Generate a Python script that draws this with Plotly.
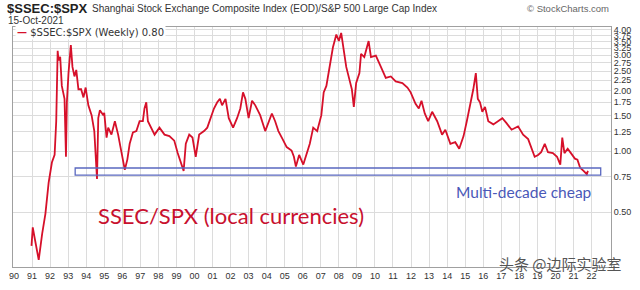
import plotly.graph_objects as go

# Weekly SSEC/SPX ratio (decimal year, ratio)
years = [1990.97, 1991.04, 1991.15, 1991.37, 1991.56, 1991.74, 1991.92, 1992.10, 1992.25, 1992.34,
         1992.42, 1992.47, 1992.56, 1992.65, 1992.80, 1992.88, 1992.93, 1993.02, 1993.15, 1993.24,
         1993.35, 1993.45, 1993.57, 1993.72, 1993.85, 1993.97, 1994.12, 1994.30, 1994.45, 1994.52,
         1994.60, 1994.67, 1994.76, 1994.95, 1995.00, 1995.13, 1995.22, 1995.40, 1995.59, 1995.77,
         1995.95, 1996.14, 1996.28, 1996.41, 1996.59, 1996.78, 1996.96, 1997.14, 1997.23, 1997.33,
         1997.42, 1997.60, 1997.79, 1998.06, 1998.34, 1998.61, 1998.88, 1999.07, 1999.25, 1999.40,
         1999.52, 1999.71, 1999.89, 2000.07, 2000.26, 2000.53, 2000.71, 2000.90, 2001.08, 2001.26,
         2001.41, 2001.53, 2001.72, 2001.90, 2002.14, 2002.36, 2002.54, 2002.69, 2002.82, 2003.00,
         2003.19, 2003.37, 2003.64, 2003.92, 2004.10, 2004.29, 2004.47, 2004.65, 2004.84, 2005.11,
         2005.38, 2005.51, 2005.62, 2005.80, 2006.03, 2006.21, 2006.39, 2006.58, 2006.80, 2007.03,
         2007.16, 2007.31, 2007.49, 2007.67, 2007.86, 2008.00, 2008.13, 2008.26, 2008.41, 2008.59,
         2008.72, 2008.83, 2008.96, 2009.14, 2009.23, 2009.41, 2009.65, 2009.78, 2010.05, 2010.33,
         2010.60, 2010.88, 2011.15, 2011.52, 2011.80, 2011.98, 2012.25, 2012.43, 2012.58, 2012.76,
         2012.95, 2013.17, 2013.45, 2013.72, 2013.90, 2014.18, 2014.45, 2014.67, 2014.91, 2015.09,
         2015.27, 2015.45, 2015.59, 2015.70, 2015.82, 2015.95, 2016.10, 2016.28, 2016.56, 2016.84,
         2017.06, 2017.29, 2017.57, 2017.93, 2018.21, 2018.49, 2018.66, 2018.85, 2019.04, 2019.21,
         2019.41, 2019.59, 2019.86, 2020.09, 2020.27, 2020.38, 2020.50, 2020.68, 2020.86, 2021.08,
         2021.22, 2021.37, 2021.56, 2021.74, 2021.80]
ratio = [0.34, 0.42, 0.37, 0.29, 0.39, 0.49, 0.70, 0.88, 0.96, 1.41,
         3.15, 2.82, 2.94, 2.11, 1.82, 0.94, 1.75, 2.44, 3.36, 2.62,
         2.35, 2.53, 2.03, 2.03, 1.85, 2.07, 1.69, 1.51, 1.26, 0.98,
         0.73, 1.46, 1.60, 1.51, 1.55, 1.17, 1.31, 1.21, 1.41, 1.21,
         1.01, 0.81, 0.91, 1.09, 1.24, 1.26, 1.41, 1.41, 1.63, 1.75,
         1.41, 1.31, 1.21, 1.31, 1.21, 1.19, 1.13, 0.98, 0.87, 0.80,
         1.09, 1.21, 1.17, 0.94, 1.21, 1.26, 1.31, 1.46, 1.63, 1.75,
         1.82, 1.69, 1.82, 1.46, 1.31, 1.46, 1.63, 1.96, 1.82, 1.46,
         1.78, 1.69, 1.51, 1.26, 1.38, 1.54, 1.41, 1.26, 1.17, 1.05,
         1.01, 0.94, 0.84, 0.96, 0.86, 0.98, 1.09, 1.31, 1.26, 1.51,
         1.96, 2.11, 2.62, 3.27, 3.79, 3.52, 3.86, 3.27, 2.62, 2.26,
         2.03, 1.66, 2.18, 2.44, 3.04, 2.93, 3.52, 2.93, 2.98, 2.62,
         2.31, 2.35, 2.22, 2.18, 2.07, 1.96, 1.72, 1.63, 1.78, 1.54,
         1.41, 1.57, 1.41, 1.21, 1.28, 1.09, 1.11, 1.03, 1.19, 1.41,
         1.69, 2.03, 2.44, 1.82, 1.75, 1.57, 1.66, 1.41, 1.36, 1.41,
         1.46, 1.38, 1.28, 1.33, 1.21, 1.15, 1.05, 0.94, 0.96, 0.99,
         1.09, 0.99, 0.98, 0.94, 0.86, 1.17, 0.98, 1.03, 0.98, 0.92,
         0.91, 0.83, 0.80, 0.77, 0.80]

year_ticks = list(range(1990, 2023))
year_labels = ["90", "91", "92", "93", "94", "95", "96", "97", "98", "99", "00", "01", "02",
               "03", "04", "05", "06", "07", "08", "09", "10", "11", "12", "13", "14", "15",
               "16", "17", "18", "19", "20", "21", "22"]
y_ticks = [0.50, 0.75, 1.00, 1.25, 1.50, 1.75, 2.00, 2.25, 2.50, 2.75, 3.00, 3.25, 3.50, 3.75, 4.00]
y_labels = ["%.2f" % v for v in y_ticks]

# "Multi-decade cheap" band
band_x = [1993.39, 2022.51]
band_y = [0.762, 0.827]

fig = go.Figure()
fig.add_trace(go.Scatter(x=years, y=ratio, mode="lines",
                         line=dict(color="#d6102a", width=1.8), showlegend=False))

fig.add_shape(type="rect", xref="x", yref="y", x0=band_x[0], x1=band_x[1],
              y0=band_y[0], y1=band_y[1], line=dict(color="#5a68c0", width=1.3),
              fillcolor="rgba(0,0,0,0)")

fig.update_layout(
    width=640, height=290,
    margin=dict(l=9, r=28, t=27, b=14),
    paper_bgcolor="white", plot_bgcolor="white",
    showlegend=False,
    xaxis=dict(range=[1989.945, 2023.08], tickvals=year_ticks, ticktext=year_labels,
               showgrid=True, gridcolor="#dcdcdc", gridwidth=1,
               showline=True, linecolor="#a0a0a0", mirror=True, zeroline=False,
               ticks="", tickfont=dict(family="Liberation Sans, Arial", size=9, color="#333"),
               ticklabelstandoff=0),
    yaxis=dict(type="log", range=[-0.573, 0.616], side="right",
               tickvals=y_ticks, ticktext=y_labels,
               showgrid=True, gridcolor="#dcdcdc", gridwidth=1,
               showline=True, linecolor="#a0a0a0", mirror=True, zeroline=False,
               ticks="", tickfont=dict(family="Liberation Sans, Arial", size=9, color="#333")),
)

def px_ann(x, y, text, font, xanchor="left", **kw):
    fig.add_annotation(xref="paper", yref="paper", x=(x - 9) / 603, y=(290 - y - 14) / 249,
                       xanchor=xanchor, yanchor="middle", showarrow=False, text=text,
                       font=font, **kw)

px_ann(1, 8, "<b>$SSEC:$SPX</b>", dict(family="Liberation Sans, Arial", size=13, color="#222"))
px_ann(87, 8, "Shanghai Stock Exchange Composite Index (EOD)/S&P 500 Large Cap Index",
       dict(family="Liberation Sans, Arial", size=10, color="#333"))
px_ann(2, 20, "15-Oct-2021", dict(family="Liberation Sans, Arial", size=10, color="#333"))
px_ann(612, 8, "© StockCharts.com", dict(family="Liberation Sans, Arial", size=9.5, color="#666"),
       xanchor="right")
px_ann(497, 272, "头条 @边际实验室", dict(family="Noto Sans CJK SC", size=15, color="#555"))
px_ann(11, 33, "<span style='color:#d6102a'><b>—</b></span> $SSEC:$SPX (Weekly) 0.80",
       dict(family="DejaVu Sans", size=10, color="#333"), bgcolor="white")
px_ann(93, 223, "SSEC/SPX (local currencies)", dict(family="Lato", size=22, color="#c8102e"))
px_ann(454, 198, "Multi-decade cheap", dict(family="Lato", size=15.5, color="#4a58b8"))

fig.write_html("out.html")
